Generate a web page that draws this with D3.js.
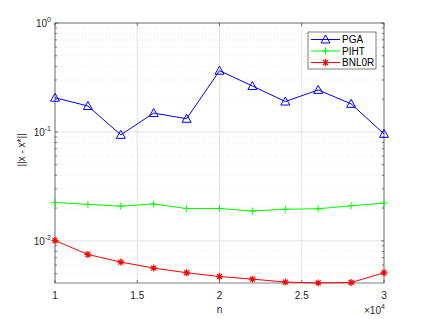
<!DOCTYPE html>
<html>
<head>
<meta charset="utf-8">
<script src="https://cdn.jsdelivr.net/npm/d3@7"></script>
<style>
body{margin:0;background:#fff;}
svg{font-family:"Liberation Sans",Arial,sans-serif;}
</style>
</head>
<body>
<svg id="chart" width="425" height="319"></svg>
<script>
var nValues = [1, 1.2, 1.4, 1.6, 1.8, 2, 2.2, 2.4, 2.6, 2.8, 3];
var pga = [0.206, 0.173, 0.094, 0.149, 0.132, 0.365, 0.264, 0.190, 0.243, 0.181, 0.096];
var piht = [0.0225, 0.0216, 0.0208, 0.0218, 0.0198, 0.0198, 0.0188, 0.0195, 0.0197, 0.0210, 0.0222];
var bnl0r = [0.01007, 0.00749, 0.00638, 0.00562, 0.00509, 0.00470, 0.00445, 0.00418, 0.00411, 0.00414, 0.00509];
var xTicks = [1, 1.5, 2, 2.5, 3];
var yTicks = [1, 0.1, 0.01];
var yTickExp = ["0", "-1", "-2"];
var seriesNames = ["PGA", "PIHT", "BNL0R"];

var margin = {top: 23, right: 41, bottom: 36, left: 55};
var W = 425, H = 319;
var width = W - margin.left - margin.right,
	height = H - margin.top - margin.bottom;
var axisColor = "#262626";

var svg = d3.select('#chart');
var chart = svg.append('g').attr('transform','translate(' + margin.left + ',' + margin.top + ')');

var x = d3.scaleLinear().domain([1,3]).range([0,width]);
var y = d3.scaleLog().domain([0.0041,1]).range([height,0]);

// minor grid (dotted) on y
var minor = [];
[0.001,0.01,0.1].forEach(function(dec){
	for(var k=2;k<=9;k++){
		var v = dec*k;
		if(v >= 0.0041 && v < 1) minor.push(v);
	}
});
chart.selectAll('.minor').data(minor).enter().append('line')
	.attr('x1',0).attr('x2',width)
	.attr('y1',function(d){ return y(d) }).attr('y2',function(d){ return y(d) })
	.style('stroke','#d9d9d9').style('stroke-width',0.6).style('stroke-dasharray','1,2');

// major grids
chart.selectAll('.ygrid').data(yTicks).enter().append('line')
	.attr('x1',0).attr('x2',width)
	.attr('y1',function(d){ return y(d) }).attr('y2',function(d){ return y(d) })
	.style('stroke','#e3e3e3').style('stroke-width',1);
chart.selectAll('.xgrid').data(xTicks).enter().append('line')
	.attr('y1',0).attr('y2',height)
	.attr('x1',function(d){ return x(d) }).attr('x2',function(d){ return x(d) })
	.style('stroke','#e3e3e3').style('stroke-width',1);

// box
chart.append('rect').attr('x',0).attr('y',0).attr('width',width).attr('height',height)
	.style('fill','none').style('stroke',axisColor).style('stroke-width',0.6);

// ticks inside
var tk = chart.append('g').style('stroke',axisColor).style('stroke-width',0.6);
xTicks.forEach(function(t){
	tk.append('line').attr('x1',x(t)).attr('x2',x(t)).attr('y1',height).attr('y2',height-3);
	tk.append('line').attr('x1',x(t)).attr('x2',x(t)).attr('y1',0).attr('y2',3);
});
yTicks.forEach(function(t){
	tk.append('line').attr('x1',0).attr('x2',3).attr('y1',y(t)).attr('y2',y(t));
	tk.append('line').attr('x1',width).attr('x2',width-3).attr('y1',y(t)).attr('y2',y(t));
});
minor.forEach(function(t){
	tk.append('line').attr('x1',0).attr('x2',2).attr('y1',y(t)).attr('y2',y(t));
	tk.append('line').attr('x1',width).attr('x2',width-2).attr('y1',y(t)).attr('y2',y(t));
});

// tick labels
chart.selectAll('.xl').data(xTicks).enter().append('text')
	.attr('x',function(d){ return x(d) }).attr('y',height+16)
	.attr('text-anchor','middle').style('font-size','10px').style('fill',axisColor)
	.text(function(d){ return d });
yTicks.forEach(function(t,i){
	var tx = chart.append('text').attr('x',-4).attr('y',y(t)+4)
		.attr('text-anchor','end').style('font-size','10px').style('fill',axisColor);
	tx.append('tspan').text('10');
	tx.append('tspan').attr('dy',-5).style('font-size','7px').text(yTickExp[i]);
});
var ex = chart.append('text').attr('x',width-20).attr('y',height+31)
	.style('font-size','10px').style('fill',axisColor);
ex.append('tspan').text('\u00d710');
ex.append('tspan').attr('dy',-5).style('font-size','7px').text('4');

// axis labels
chart.append('text').attr('x',width/2).attr('y',height+30)
	.attr('text-anchor','middle').style('font-size','10px').style('fill',axisColor).text('n');
chart.append('text').attr('transform','translate(-30,' + (height/2 - 3) + ') rotate(-90)')
	.attr('text-anchor','middle').style('font-size','10px').style('fill',axisColor).text('||x - x*||');

// series
var series = [
	{name: seriesNames[0], values: pga, color: '#0000ff', marker: 'tri'},
	{name: seriesNames[1], values: piht, color: '#00ff00', marker: 'plus'},
	{name: seriesNames[2], values: bnl0r, color: '#ff0000', marker: 'star'}
];
var line = d3.line().x(function(d,i){ return x(nValues[i]) }).y(function(d){ return y(d) });

function drawMarker(g, type, cx, cy, color){
	if(type === 'tri'){
		g.append('path').attr('d','M' + cx + ',' + (cy-4.5) + 'L' + (cx+4.5) + ',' + (cy+3.5) + 'L' + (cx-4.5) + ',' + (cy+3.5) + 'Z')
			.style('fill','none').style('stroke',color).style('stroke-width',1);
	}else if(type === 'plus'){
		g.append('path').attr('d','M' + (cx-3.5) + ',' + cy + 'H' + (cx+3.5) + 'M' + cx + ',' + (cy-3.5) + 'V' + (cy+3.5))
			.style('stroke',color).style('stroke-width',1);
	}else{
		var r = 3.5, r2 = 2.5;
		g.append('path').attr('d','M' + (cx-r) + ',' + cy + 'H' + (cx+r) + 'M' + cx + ',' + (cy-r) + 'V' + (cy+r)
			+ 'M' + (cx-r2) + ',' + (cy-r2) + 'L' + (cx+r2) + ',' + (cy+r2) + 'M' + (cx-r2) + ',' + (cy+r2) + 'L' + (cx+r2) + ',' + (cy-r2))
			.style('stroke',color).style('stroke-width',1.2);
	}
}

series.forEach(function(s){
	chart.append('path').datum(s.values).attr('d',line)
		.style('fill','none').style('stroke',s.color).style('stroke-width',1);
	var g = chart.append('g');
	s.values.forEach(function(v,i){ drawMarker(g, s.marker, x(nValues[i]), y(v), s.color) });
});

// legend
var lg = svg.append('g').attr('transform','translate(308,32)');
lg.append('rect').attr('width',68).attr('height',37)
	.style('fill','#fff').style('stroke',axisColor).style('stroke-width',0.6);
series.forEach(function(s,i){
	var ly = 7.5 + i*11.5;
	lg.append('line').attr('x1',3).attr('x2',32).attr('y1',ly).attr('y2',ly)
		.style('stroke',s.color).style('stroke-width',1);
	drawMarker(lg, s.marker, 17.5, ly, s.color);
	lg.append('text').attr('x',34).attr('y',ly+3.5).style('font-size','10px').style('fill','#000').text(s.name);
});
</script>
</body>
</html>
